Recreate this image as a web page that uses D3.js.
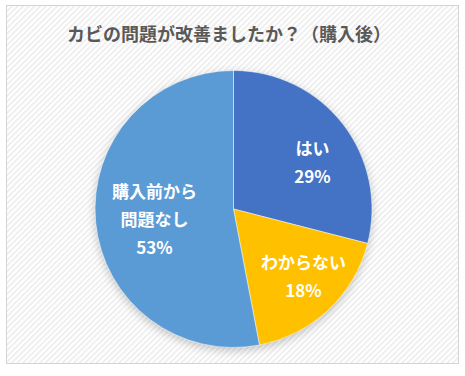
<!DOCTYPE html>
<html>
<head>
<meta charset="utf-8">
<script src="https://cdn.jsdelivr.net/npm/d3@7"></script>
<style>
  body { margin: 0; background: #fff; }
  text { font-family: "Noto Sans CJK JP", "Noto Sans", sans-serif; }
</style>
</head>
<body>
<div class="chart"></div>
<script>
const labels = [['はい'], ['わからない'], ['購入前から', '問題なし']];
const values = [29, 18, 53];
const colors = ['#4472c4', '#ffc000', '#5b9bd5'];
const title = 'カビの問題が改善ましたか？（購入後）';

const width = 465, height = 376;
const cx = 233.5, cy = 209, radius = 138.5;

const svg = d3.select('.chart')
.append('svg')
.attr('width', width)
.attr('height', height);

const defs = svg.append('defs');

const pat = defs.append('pattern')
.attr('id', 'stripes')
.attr('width', 4)
.attr('height', 4)
.attr('patternUnits', 'userSpaceOnUse')
.attr('patternTransform', 'rotate(45)');

pat.append('rect').attr('width', 4).attr('height', 4).attr('fill', '#ffffff');
pat.append('rect').attr('width', 1.6).attr('height', 4).attr('fill', '#ececec');

const blur = defs.append('filter')
.attr('id', 'shadow')
.attr('x', '-20%').attr('y', '-20%')
.attr('width', '140%').attr('height', '140%');
blur.append('feGaussianBlur').attr('stdDeviation', 5);

// frame
svg.append('rect')
.attr('x', 6.5).attr('y', 5.5)
.attr('width', 452).attr('height', 358)
.attr('fill', 'url(#stripes)')
.attr('stroke', '#d4d4d4')
.attr('stroke-width', 1);

svg.append('text')
.attr('x', 229)
.attr('y', 41)
.attr('text-anchor', 'middle')
.attr('font-size', 18)
.attr('font-weight', 'bold')
.attr('fill', '#595959')
.text(title);

const pie = d3.pie().sort(null).value(d => d);
const arc = d3.arc().innerRadius(0).outerRadius(radius);

const g = svg.append('g').attr('transform', `translate(${cx},${cy})`);

g.append('circle')
.attr('r', radius)
.attr('cy', 3)
.attr('fill', '#000')
.attr('opacity', 0.22)
.attr('filter', 'url(#shadow)');

const arcs = pie(values);

g.selectAll('path')
.data(arcs)
.enter()
.append('path')
.attr('d', arc)
.attr('fill', (d, i) => colors[i])
.attr('stroke', '#ffffff')
.attr('stroke-width', 0.5);

// label block centres relative to pie centre
const labelPos = [[79, -46], [70, 67.5], [-79, 11]];

arcs.forEach((d, i) => {
	const lines = labels[i].concat([d.data + '%']);
	const t = g.append('text')
	.attr('text-anchor', 'middle')
	.attr('font-size', 17)
	.attr('font-weight', 'bold')
	.attr('fill', '#ffffff');
	const start = labelPos[i][1] - (lines.length - 1) * 14;
	lines.forEach((l, j) => {
		t.append('tspan')
		.attr('x', labelPos[i][0])
		.attr('y', start + j * 28 + 6)
		.text(l);
	});
});
</script>
</body>
</html>
